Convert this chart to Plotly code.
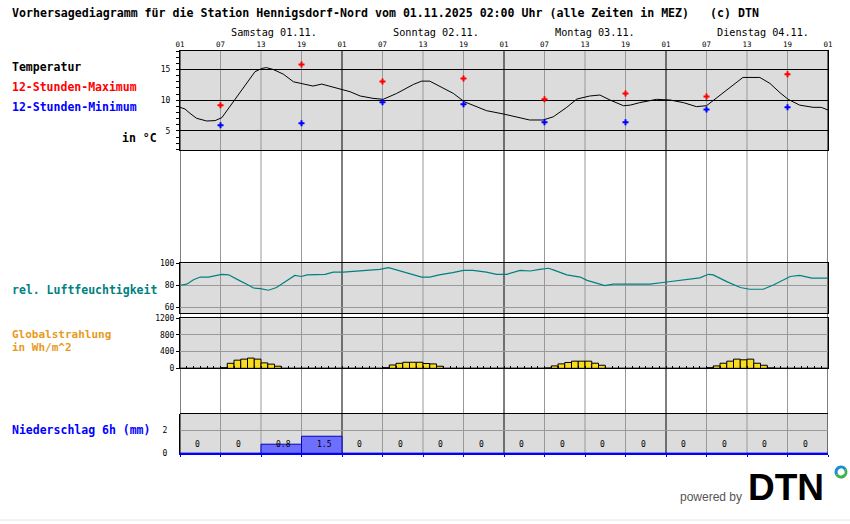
import math
import plotly.graph_objects as go

W, H = 850, 524

# ---------------- data ----------------
hour_ticks = [0, 6, 12, 18, 24, 30, 36, 42, 48, 54, 60, 66, 72, 78, 84, 90, 96]
hour_tick_labels = ["01", "07", "13", "19", "01", "07", "13", "19", "01",
                    "07", "13", "19", "01", "07", "13", "19", "01"]
day_labels = ["Samstag 01.11.", "Sonntag 02.11.", "Montag 03.11.", "Dienstag 04.11."]

temp_hours = [0, 0.74, 1.48, 2.47, 3.95, 5.2, 6.2, 7.4, 8.6, 9.9, 11.1, 12.1, 12.8, 13.8,
              15.3, 16.8, 18.0, 19.7, 21.0, 22.2, 23.7, 25.2, 26.7, 28.6, 30.1, 32.1, 34.6,
              35.8, 37.0, 38.5, 40.5, 42.1, 43.4, 45.4, 47.9, 50.4, 51.8, 53.8, 55.3, 57.3,
              58.8, 60.7, 62.2, 63.7, 65.7, 66.7, 68.1, 70.6, 72.6, 74.6, 76.5, 78.0, 80.0,
              82.0, 83.4, 85.9, 87.4, 88.9, 90.1, 91.8, 93.8, 95.0, 96.0]
temp_values = [8.84, 8.57, 7.86, 7.05, 6.62, 6.68, 7.16, 8.95, 10.84, 12.73, 14.62, 15.16,
               15.3, 15.0, 14.24, 13.0, 12.73, 12.3, 12.62, 12.3, 11.8, 11.38, 10.68, 10.3,
               10.14, 11.1, 12.57, 13.1, 13.1, 12.3, 11.1, 9.76, 9.2, 8.3, 7.76, 7.16, 6.78,
               6.78, 7.3, 8.84, 10.19, 10.68, 10.84, 10.03, 9.1, 9.2, 9.6, 10.14, 10.03, 9.6,
               8.95, 9.1, 10.84, 12.57, 13.7, 13.7, 12.73, 11.2, 10.14, 9.2, 8.84, 8.84, 8.4]

extreme_hours = [6, 18, 30, 42, 54, 66, 78, 90]
max_values = [9.16, 15.8, 13.05, 13.54, 10.14, 11.1, 10.6, 14.2]
min_values = [5.92, 6.24, 9.65, 9.32, 6.4, 6.4, 8.5, 8.84]

hum_hours = [0, 1, 2, 3, 4.2, 5.4, 6.2, 7.2, 7.9, 8.9, 9.9, 10.9, 11.9, 13.1, 14.3, 15.3,
             16.3, 17.0, 18.0, 18.8, 21.5, 22.7, 24.2, 25.7, 27.7, 29.6, 30.9, 32.1, 34.1,
             35.8, 37.0, 38.4, 40.4, 42.0, 43.4, 45.4, 46.9, 48.4, 50.4, 51.9, 53.3, 54.6,
             55.3, 57.3, 59.3, 60.3, 61.7, 62.9, 64.2, 67.1, 69.6, 72.1, 75.1, 77.0, 78.3,
             79.0, 81.0, 83.0, 84.4, 86.4, 87.9, 90.4, 91.8, 93.6, 96.0]
hum_values = [80, 81, 85, 87.5, 87.5, 89, 90, 89.5, 87.5, 84, 81, 77.5, 77, 75.5, 78, 82,
              86.5, 89, 88, 89.5, 90, 92, 92, 92.7, 94, 94.5, 96, 94, 91, 87.5, 87.5, 89.5,
              91.5, 93.6, 93.6, 92, 90, 90, 93.6, 93, 94.5, 95.5, 94, 89.5, 87.5, 84.5, 82,
              79.7, 81, 81, 81, 83, 85.5, 86.7, 90, 89.5, 83.3, 78, 76.4, 76.4, 80.3, 88, 89,
              86.5, 86.5]

rad_sat = [0, 0, 0, 0, 0, 0, 15, 120, 195, 220, 245, 220, 130, 100, 50, 0, 0, 0, 0, 0, 0, 0, 0, 0]
rad_sun = [0, 0, 0, 0, 0, 0, 15, 80, 120, 145, 145, 145, 115, 105, 50, 0, 0, 0, 0, 0, 0, 0, 0, 0]
rad_mon = [0, 0, 0, 0, 0, 0, 10, 57, 106, 140, 171, 171, 171, 122, 73, 0, 0, 0, 0, 0, 0, 0, 0, 0]
rad_tue = [0, 0, 0, 0, 0, 0, 15, 57, 122, 171, 220, 204, 220, 122, 73, 10, 0, 0, 0, 0, 0, 0, 0, 0]

precip_values = [0, 0, 0.8, 1.5, 0, 0, 0, 0, 0, 0, 0, 0, 0, 0, 0, 0]

# ---------------- layout helpers ----------------
def px(x):
    return x / W

def py(y):
    return 1 - y / H

MONO = "DejaVu Sans Mono"
GRID = "#999999"
BG = "#dcdcdc"
XD = [px(180), px(828)]

rad_values = rad_sat + rad_sun + rad_mon + rad_tue
rad_x = [h + 0.5 for h in range(len(rad_values))]
precip_x = [6 * i + 3 for i in range(len(precip_values))]

fig = go.Figure()

fig.add_trace(go.Scatter(x=temp_hours, y=temp_values, mode="lines",
                         line=dict(color="black", width=1), xaxis="x", yaxis="y",
                         hoverinfo="skip"))
fig.add_trace(go.Scatter(x=extreme_hours, y=max_values, mode="markers",
                         marker=dict(symbol="cross", size=5, color="#ff0000"),
                         xaxis="x", yaxis="y"))
fig.add_trace(go.Scatter(x=extreme_hours, y=min_values, mode="markers",
                         marker=dict(symbol="cross", size=5, color="#0000ff"),
                         xaxis="x", yaxis="y"))
fig.add_trace(go.Scatter(x=hum_hours, y=hum_values, mode="lines",
                         line=dict(color="#008080", width=1.2), xaxis="x2", yaxis="y2"))
fig.add_trace(go.Bar(x=rad_x, y=rad_values, width=1,
                     marker=dict(color="#fadc1e", line=dict(color="black", width=1)),
                     xaxis="x3", yaxis="y3"))
fig.add_trace(go.Bar(x=precip_x, y=precip_values, width=6,
                     marker=dict(color="#6e6eff", line=dict(color="#0000c0", width=1)),
                     xaxis="x4", yaxis="y4"))

xcommon = dict(range=[0, 96], domain=XD, showgrid=False, zeroline=False,
               fixedrange=True, automargin=False)
ycommon = dict(showgrid=True, zeroline=False, showline=True, linecolor="black",
               linewidth=1, mirror=True, ticks="outside", ticklen=3, tickcolor="black",
               tickfont=dict(family=MONO, size=8, color="black"), fixedrange=True,
               automargin=False)

fig.update_layout(
    width=W, height=H, autosize=False,
    margin=dict(l=0, r=0, t=0, b=0, pad=0),
    paper_bgcolor="white", plot_bgcolor=BG,
    showlegend=False, bargap=0, hovermode=False,
    xaxis=dict(**xcommon, anchor="y", side="top", tickmode="array",
               tickvals=hour_ticks, ticktext=hour_tick_labels, ticks="",
               showline=True, mirror=True, linecolor="black", linewidth=1,
               tickfont=dict(family=MONO, size=7.5, color="black")),
    xaxis2=dict(**xcommon, anchor="y2", matches="x", showticklabels=False,
                showline=True, mirror=True, linecolor="black", ticks=""),
    xaxis3=dict(**xcommon, anchor="y3", matches="x", showticklabels=False,
                showline=True, mirror=True, linecolor="black",
                ticks="inside", tickmode="linear", tick0=0, dtick=1, ticklen=2,
                tickcolor="black"),
    xaxis4=dict(**xcommon, anchor="y4", matches="x", showticklabels=False,
                showline=True, linecolor="#0000ff", linewidth=1.5,
                ticks="outside", tickmode="array", tickvals=hour_ticks, ticklen=2,
                tickcolor="#0000ff"),
    yaxis=dict(**ycommon, domain=[py(150), py(51)], range=[1.9, 18.0], anchor="x",
               tickvals=[5, 10, 15], gridcolor="black", gridwidth=1,
               minor=dict(dtick=1, tick0=0, ticks="outside", ticklen=3,
                          tickcolor="black", showgrid=False),
               ticklabelstandoff=4),
    yaxis2=dict(**ycommon, domain=[py(313.3), py(263.3)], range=[54.5, 100],
                anchor="x2", tickvals=[60, 80, 100], gridcolor=GRID),
    yaxis3=dict(**ycommon, domain=[py(368.3), py(318.3)], range=[0, 1200],
                anchor="x3", tickvals=[0, 400, 800, 1200], gridcolor=GRID),
    yaxis4=dict(showgrid=True, zeroline=False, showline=True, linecolor="black",
                linewidth=1, ticks="", domain=[py(453.3), py(413.5)], range=[0, 3.5],
                anchor="x4", tickvals=[0, 2], gridcolor=GRID, fixedrange=True,
                tickfont=dict(family=MONO, size=8, color="black"),
                ticklabelstandoff=10, automargin=False),
)

# vertical 6-hour lines across all panels
shapes = []
for h in hour_ticks:
    shapes.append(dict(type="line", xref="x", yref="paper", x0=h, x1=h,
                       y0=py(453.3), y1=py(51),
                       line=dict(color="black" if h % 24 == 0 else GRID, width=1),
                       layer="below"))
# top border of precipitation panel
shapes.append(dict(type="line", xref="x4 domain", yref="y4 domain", x0=0, x1=1,
                   y0=1, y1=1, line=dict(color="black", width=1)))


# logo ring (two coloured half arcs)
def arc_path(cx, cy, r, a0, a1):
    n = max(1, int(math.ceil(abs(a1 - a0) / 90.0)))
    step = (a1 - a0) / n
    t0 = math.radians(a0)
    d = "M %.5f,%.5f" % (px(cx + r * math.cos(t0)), py(cy - r * math.sin(t0)))
    for i in range(n):
        t1 = math.radians(a0 + i * step)
        t2 = math.radians(a0 + (i + 1) * step)
        k = 4.0 / 3.0 * math.tan((t2 - t1) / 4.0)
        p0 = (cx + r * math.cos(t1), cy - r * math.sin(t1))
        p3 = (cx + r * math.cos(t2), cy - r * math.sin(t2))
        p1 = (p0[0] - k * r * math.sin(t1), p0[1] - k * r * math.cos(t1))
        p2 = (p3[0] + k * r * math.sin(t2), p3[1] + k * r * math.cos(t2))
        d += " C %.5f,%.5f %.5f,%.5f %.5f,%.5f" % (px(p1[0]), py(p1[1]), px(p2[0]), py(p2[1]),
                                                   px(p3[0]), py(p3[1]))
    return d

shapes.append(dict(type="path", xref="paper", yref="paper",
                   path=arc_path(841, 472, 5, 30, 210),
                   line=dict(color="#1a8fd0", width=3)))
shapes.append(dict(type="path", xref="paper", yref="paper",
                   path=arc_path(841, 472, 5, 210, 390),
                   line=dict(color="#3fb34f", width=3)))
# faint footer rule
shapes.append(dict(type="line", xref="paper", yref="paper", x0=0, x1=1,
                   y0=py(520), y1=py(520), line=dict(color="#e6e6e6", width=1)))
fig.update_layout(shapes=shapes)

ann = []
def text(x, y, s, size=11.5, color="black", bold=True, family=MONO, xanchor="left",
         xref="paper", yref="paper"):
    ann.append(dict(x=x, y=y, xref=xref, yref=yref, text=("<b>%s</b>" % s) if bold else s,
                    showarrow=False, xanchor=xanchor, yanchor="middle",
                    font=dict(family=family, size=size, color=color)))

text(px(10), py(13),
     "Vorhersagediagramm für die Station Hennigsdorf-Nord vom 01.11.2025 02:00 Uhr (alle Zeiten in MEZ)&nbsp;&nbsp;&nbsp;(c) DTN",
     size=11.6)
for i, d in enumerate(day_labels):
    text(24 * i + 7.3, py(33), d, size=10.2, bold=False, xref="x")

text(px(10), py(67), "Temperatur")
text(px(10), py(87), "12-Stunden-Maximum", color="#ff0000")
text(px(10), py(107), "12-Stunden-Minimum", color="#0000ff")
text(px(120), py(137.5), "in °C")
text(px(10), py(290), "rel. Luftfeuchtigkeit", color="#008080")
text(px(10), py(334), "Globalstrahlung", size=11, color="#e69b1e")
text(px(10), py(347), "in Wh/m^2", size=11, color="#e69b1e")
text(px(10), py(430), "Niederschlag 6h (mm)", color="#0000ff")

for i, v in enumerate(precip_values):
    lab = "0" if v == 0 else ("%.1f" % v)
    ann.append(dict(x=6 * i + 1.95, y=0.21, xref="x4", yref="y4 domain", text=lab,
                    showarrow=False, xanchor="left", yanchor="middle",
                    font=dict(family=MONO, size=8, color="black")))

text(px(678), py(497), "powered by", size=12, color="#555555", bold=False,
     family="Liberation Sans")
text(px(746), py(487), "DTN", size=37, color="black", bold=True,
     family="Liberation Sans")

fig.update_layout(annotations=ann)

# remove the browser's default 8px body margin so the figure fills the window
fig.write_html("out.html", config={"displayModeBar": False, "staticPlot": True},
               post_script="document.body.style.margin='0';")
